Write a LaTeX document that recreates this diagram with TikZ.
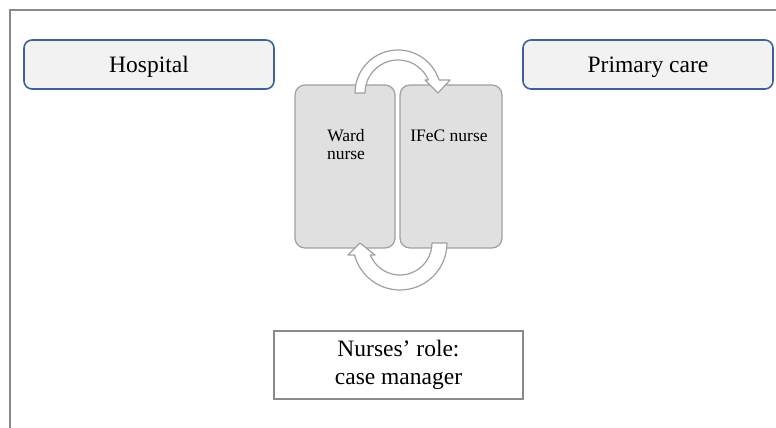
\documentclass[tikz,border=0pt]{standalone}
\usepackage{fontspec}
\setmainfont{Liberation Serif}
\usetikzlibrary{positioning}

\definecolor{placeblue}{RGB}{62,96,160}
\definecolor{placefill}{RGB}{242,242,242}
\definecolor{nursefill}{RGB}{224,224,224}
\definecolor{nurseline}{RGB}{160,160,160}
\definecolor{frameline}{RGB}{138,138,138}

\tikzset{
  place/.style={draw=placeblue, line width=1.6pt, fill=placefill, rounded corners=8pt,
    minimum width=250pt, minimum height=49pt, inner sep=0pt, text height=21pt, text depth=5pt,
    font=\fontsize{23.5}{27}\selectfont},
  nursebox/.style={draw=nurseline, line width=1.2pt, fill=nursefill, rounded corners=10pt,
    minimum height=163pt, inner sep=0pt},
  nurselabel/.style={inner sep=0pt, anchor=base, align=center, font=\fontsize{17.5}{18}\selectfont},
  rolebox/.style={draw=frameline, line width=1.6pt, fill=white, align=center,
    minimum width=249pt, minimum height=68pt, inner sep=0pt, font=\fontsize{23.5}{28}\selectfont},
  turnarrow/.style={draw=nurseline, line width=1.2pt, fill=white, line join=round}
}

\begin{document}
\begin{tikzpicture}[x=1pt, y=1pt]
\useasboundingbox (0,0) rectangle (776,428);

% frame
\coordinate (topright) at (776,418);
\coordinate (topleft) at (10,418);
\coordinate (lowleft) at (10,0);
\draw[frameline, line width=1.6pt] (topright) -- (topleft) -- (lowleft);

% settings
\node[place] (hosp) at (149,363.5) {Hospital};
\node[place] (prim) at (648,363.5) {Primary care};

% the two nurses
\node[nursebox, minimum width=100pt] (ward) at (345,261.5) {};
\node[nursebox, minimum width=102pt] (ifec) at (451,261.5) {};
\node[nurselabel] (wardtext) at (346,268.7) {Ward\\nurse};
\node[nurselabel] (ifectext) at (449,286.5) {IFeC nurse};

% hand-over arrows
\coordinate (topturn) at (398,335);
\coordinate (lowturn) at (400,185);
\draw[turnarrow, shift={(topturn)}] (180:43) arc[start angle=180, end angle=17.6, radius=43]
  -- (52,13) -- (40,0) -- (27,13) -- (23.2:33) arc[start angle=23.2, end angle=180, radius=33] -- cycle;
\draw[turnarrow, shift={(lowturn)}] (0:47) arc[start angle=0, end angle=-165.2, radius=47]
  -- (-52,-12) -- (-40,0) -- (-25,-12) -- (-158:32) arc[start angle=-158, end angle=0, radius=32] -- cycle;

% role
\node[rolebox] (role) at (398.5,63) {Nurses’ role:\\case manager};
\end{tikzpicture}
\end{document}
